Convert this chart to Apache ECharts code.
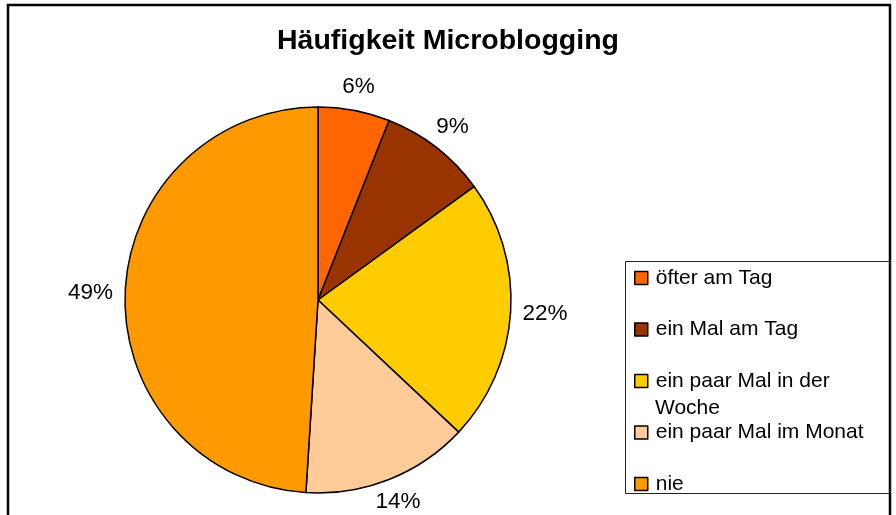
<!DOCTYPE html>
<html>
<head>
<meta charset="utf-8">
<script src="https://cdn.jsdelivr.net/npm/echarts@6/dist/echarts.min.js"></script>
<style>
html, body { margin: 0; padding: 0; background: #fff; }
#main { width: 896px; height: 515px; }
</style>
</head>
<body>
<div id="main"></div>
<script>
// Kategorien und Anteile (Prozent)
var categories = ['öfter am Tag', 'ein Mal am Tag', 'ein paar Mal in der Woche', 'ein paar Mal im Monat', 'nie'];
var shares = [6, 9, 22, 14, 49];
var colors = ['#FF6600', '#993300', '#FFCC00', '#FFCC99', '#FF9900'];

var FONT = "'Liberation Sans', Arial, sans-serif";
var pieCenter = [318, 300];
var pieRadius = 193;

// Mittelwinkel jedes Segments (im Uhrzeigersinn ab 12 Uhr)
var total = shares.reduce(function (a, b) { return a + b; }, 0);
var midAngles = [];
var acc = 0;
shares.forEach(function (v) {
    midAngles.push((acc + v / 2) / total * Math.PI * 2);
    acc += v;
});

var chart = echarts.init(document.getElementById('main'));

var option = {
    backgroundColor: '#fff',
    animation: false,
    title: {
        text: 'Häufigkeit Microblogging',
        left: 'center',
        top: 27,
        padding: 0,
        textStyle: { fontFamily: FONT, fontSize: 28.5, fontWeight: 'bold', color: '#000' }
    },
    legend: {
        orient: 'vertical',
        left: 634,
        top: 267,
        padding: 0,
        itemGap: 29.5,
        itemWidth: 13,
        itemHeight: 13,
        icon: 'rect',
        selectedMode: false,
        data: categories,
        itemStyle: { borderColor: '#000', borderWidth: 1.5 },
        formatter: function (name) {
            // zweite Zeile "Woche" wird separat gesetzt
            return name === 'ein paar Mal in der Woche' ? 'ein paar Mal in der' : name;
        },
        textStyle: { fontFamily: FONT, fontSize: 21, lineHeight: 22, color: '#000', padding: [0, 0, 0, 3] }
    },
    graphic: [
        {
            type: 'rect',
            shape: { x: 8, y: 5, width: 882, height: 530 },
            style: { fill: 'none', stroke: '#000', lineWidth: 2.5 },
            silent: true
        },
        {
            type: 'rect',
            shape: { x: 625.5, y: 261.5, width: 265, height: 232 },
            style: { fill: 'none', stroke: '#222', lineWidth: 1 },
            silent: true
        },
        {
            type: 'text',
            x: 655,
            y: 408,
            style: { text: 'Woche', fontFamily: FONT, fontSize: 21, fill: '#000', verticalAlign: 'middle' },
            silent: true
        }
    ],
    series: [{
        type: 'pie',
        center: pieCenter,
        radius: pieRadius,
        startAngle: 90,
        clockwise: true,
        data: categories.map(function (c, i) {
            return { name: c, value: shares[i], itemStyle: { color: colors[i] } };
        }),
        itemStyle: { borderColor: '#000', borderWidth: 1.5 },
        emphasis: { disabled: true },
        label: {
            show: true,
            position: 'outside',
            formatter: '{d}%',
            fontFamily: FONT,
            fontSize: 22.5,
            color: '#000'
        },
        labelLine: { show: false },
        labelLayout: function (p) {
            var a = midAngles[p.dataIndex];
            var ux = Math.sin(a), uy = -Math.cos(a);
            var w = p.labelRect.width, h = p.labelRect.height;
            var ext = Math.min(
                Math.abs(ux) > 1e-6 ? w / 2 / Math.abs(ux) : Infinity,
                Math.abs(uy) > 1e-6 ? h / 2 / Math.abs(uy) : Infinity
            );
            var d = pieRadius + 12 + ext;
            return {
                x: pieCenter[0] + ux * d,
                y: pieCenter[1] + uy * d,
                align: 'center',
                verticalAlign: 'middle'
            };
        }
    }]
};

chart.setOption(option);
</script>
</body>
</html>
